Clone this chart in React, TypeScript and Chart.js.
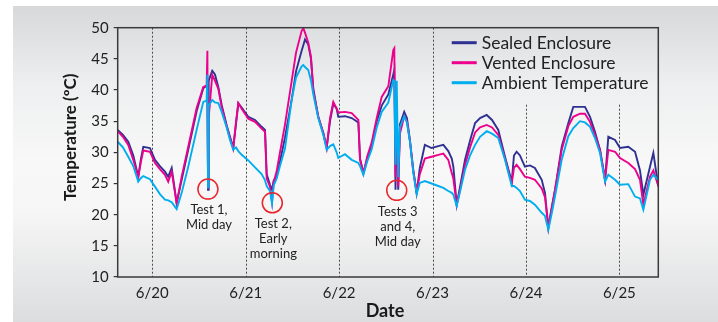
import React, { useEffect, useRef } from "react";
import { Chart, registerables } from "chart.js";

Chart.register(...registerables);

// x-axis ticks (day of June) and their labels
const dayTicks = [20, 21, 22, 23, 24, 25];
const tickLabels = ["6/20", "6/21", "6/22", "6/23", "6/24", "6/25"];
const yTicks = [10, 15, 20, 25, 30, 35, 40, 45, 50];

// sample times, decimal day of June
const times = [
  19.63, 19.686, 19.743, 19.797, 19.85, 19.879, 19.904, 19.975, 20.029, 20.082,
  20.136, 20.171, 20.208, 20.261, 20.315, 20.385, 20.475, 20.546, 20.582, 20.59,
  20.597, 20.604, 20.642, 20.671, 20.707, 20.743, 20.797, 20.832, 20.867, 20.896,
  20.921, 20.957, 21.028, 21.1, 21.171, 21.207, 21.225, 21.26, 21.282, 21.3,
  21.332, 21.367, 21.421, 21.493, 21.539, 21.599, 21.617, 21.635, 21.67, 21.699,
  21.724, 21.777, 21.831, 21.867, 21.903, 21.938, 21.974, 21.991, 22.063, 22.135,
  22.206, 22.224, 22.26, 22.3, 22.349, 22.403, 22.456, 22.527, 22.58, 22.591,
  22.604, 22.617, 22.633, 22.651, 22.697, 22.726, 22.758, 22.794, 22.83, 22.864,
  22.918, 22.99, 23.062, 23.116, 23.169, 23.206, 23.223, 23.259, 23.295, 23.348,
  23.402, 23.456, 23.509, 23.58, 23.637, 23.704, 23.776, 23.848, 23.872, 23.9,
  23.936, 23.989, 24.043, 24.096, 24.169, 24.204, 24.24, 24.274, 24.312, 24.383,
  24.454, 24.507, 24.579, 24.632, 24.686, 24.739, 24.793, 24.847, 24.882, 24.954,
  25.007, 25.096, 25.168, 25.221, 25.257, 25.328, 25.364, 25.417,
];

const sealed = [
  33.6, 32.8, 31.7, 29.5, 26.1, 29.0, 30.9, 30.7, 28.8, 27.8,
  26.9, 26.1, 27.5, 21.9, 25.6, 30.4, 36.6, 40.3, 40.7, 40.6,
  24.0, 41.5, 43.1, 42.5, 40.5, 37.6, 34.3, 32.5, 30.8, 34.5,
  37.9, 37.2, 35.7, 35.2, 34.1, 33.6, 26.5, 24.8, 24.0, 25.5,
  26.1, 28.5, 32.4, 38.5, 43.0, 46.3, 47.2, 48.1, 47.3, 45.0,
  40.2, 35.7, 33.1, 30.8, 35.0, 37.8, 37.0, 35.7, 35.8, 35.5,
  34.8, 29.0, 26.7, 28.8, 31.2, 35.0, 37.5, 39.3, 42.5, 43.2,
  24.0, 38.0, 24.0, 34.5, 36.5, 35.5, 32.0, 27.2, 23.5, 27.5,
  31.2, 30.7, 31.0, 31.2, 30.2, 29.0, 27.7, 21.6, 24.5, 28.8,
  31.9, 34.7, 35.5, 36.0, 35.2, 33.6, 29.3, 25.3, 29.5, 30.1,
  29.5, 27.7, 27.9, 27.5, 25.6, 23.5, 17.9, 21.0, 24.0, 30.9,
  34.7, 37.3, 37.3, 37.3, 35.7, 33.3, 30.4, 25.6, 32.5, 32.0,
  30.7, 30.9, 30.1, 27.1, 23.2, 27.7, 29.9, 24.5,
];

const vented = [
  33.4, 32.5, 31.2, 28.8, 26.0, 28.5, 30.3, 30.1, 28.3, 27.3,
  26.4, 25.3, 26.9, 21.8, 26.1, 30.9, 37.1, 40.5, 40.7, 46.3,
  24.3, 35.5, 42.4, 41.5, 40.2, 37.3, 34.1, 32.3, 30.6, 34.8,
  37.9, 37.0, 35.4, 34.9, 33.8, 33.3, 25.8, 24.5, 22.0, 25.2,
  27.0, 30.0, 34.5, 41.5, 46.0, 49.5, 49.9, 49.2, 47.6, 45.3,
  39.8, 35.7, 33.1, 30.7, 35.5, 38.1, 37.0, 36.4, 36.5, 36.3,
  35.2, 28.8, 26.6, 29.3, 31.6, 35.5, 38.9, 40.6, 46.4, 46.7,
  26.0, 36.0, 24.5, 33.0, 35.8, 35.0, 31.8, 27.0, 23.6, 26.5,
  29.0, 29.3, 29.6, 29.8, 28.8, 26.7, 25.8, 21.6, 24.0, 28.0,
  30.8, 33.2, 34.0, 34.4, 34.0, 32.8, 29.0, 25.0, 27.5, 28.0,
  27.3, 26.1, 25.9, 25.6, 24.2, 22.8, 17.9, 20.8, 24.0, 30.4,
  34.2, 35.7, 36.2, 36.2, 34.9, 32.8, 30.4, 25.6, 30.4, 30.1,
  29.1, 28.3, 27.3, 25.6, 21.6, 26.1, 27.1, 24.6,
];

const ambient = [
  31.7, 30.8, 29.3, 27.8, 25.3, 25.9, 26.2, 25.7, 24.5, 23.3,
  22.4, 22.3, 22.0, 20.9, 23.5, 27.7, 33.6, 38.1, 38.3, 42.5,
  24.4, 37.5, 38.4, 38.0, 37.9, 36.5, 34.0, 32.0, 30.4, 30.8,
  30.2, 29.6, 28.7, 27.6, 26.5, 25.5, 24.6, 23.8, 21.8, 24.7,
  25.8, 27.8, 30.6, 38.5, 42.0, 43.8, 44.0, 43.7, 43.2, 41.5,
  39.3, 35.5, 32.8, 30.4, 31.0, 31.3, 30.0, 29.1, 29.7, 28.8,
  28.3, 27.8, 26.4, 28.5, 30.5, 34.0, 36.5, 38.0, 41.6, 41.5,
  28.0, 41.5, 26.0, 34.0, 35.8, 34.8, 31.8, 26.8, 23.3, 25.1,
  25.4, 25.0, 24.6, 24.3, 23.8, 23.5, 23.2, 21.4, 23.7, 27.2,
  29.5, 31.2, 32.5, 33.4, 33.0, 32.3, 28.8, 24.6, 24.6, 24.3,
  23.8, 22.4, 22.2, 21.6, 20.3, 19.8, 17.6, 20.0, 23.0, 28.8,
  32.6, 33.9, 35.0, 34.8, 34.1, 32.3, 29.9, 25.3, 26.4, 25.6,
  24.8, 24.9, 22.9, 22.6, 20.8, 25.6, 26.4, 25.6,
];

// test annotations (day, temperature) and their captions
const testDays = [20.596, 21.285, 22.617];
const testTemps = [24.1, 21.9, 23.9];
const testLabels = [
  ["Test 1,", "Mid day"],
  ["Test 2,", "Early", "morning"],
  ["Tests 3", "and 4,", "Mid day"],
];

const seriesNames = ["Sealed Enclosure", "Vented Enclosure", "Ambient Temperature"];
const seriesColors = ["#2e3192", "#ec008c", "#00aeef"];
const FONT = "Lato, 'Open Sans', sans-serif";

const overlayPlugin = {
  id: "overlay",
  beforeDatasetsDraw(chart: any) {
    const { ctx, chartArea: a, scales } = chart;
    const x = scales.x;
    ctx.save();
    ctx.strokeStyle = "#4a4a4a";
    ctx.lineWidth = 1;
    ctx.setLineDash([2, 2]);
    const legendLeft = a.left + 322;
    const legendBottom = a.top + 77;
    dayTicks.forEach((v) => {
      const px = Math.round(x.getPixelForValue(v)) + 0.5;
      const y0 = px > legendLeft ? legendBottom : a.top;
      ctx.beginPath();
      ctx.moveTo(px, y0);
      ctx.lineTo(px, a.bottom);
      ctx.stroke();
    });
    ctx.restore();
  },
  afterDatasetsDraw(chart: any) {
    const { ctx, chartArea: a, scales } = chart;
    const x = scales.x;
    const y = scales.y;
    ctx.save();
    // frame
    ctx.strokeStyle = "#3a3a3a";
    ctx.lineWidth = 1.5;
    ctx.strokeRect(a.left, a.top, a.right - a.left, a.bottom - a.top);

    // legend
    ctx.font = `17.5px ${FONT}`;
    ctx.textBaseline = "middle";
    ctx.textAlign = "left";
    seriesNames.forEach((name, i) => {
      const ly = a.top + 15 + i * 20;
      ctx.strokeStyle = seriesColors[i];
      ctx.lineWidth = 3;
      ctx.beginPath();
      ctx.moveTo(a.left + 334, ly);
      ctx.lineTo(a.left + 359, ly);
      ctx.stroke();
      ctx.fillStyle = "#222";
      ctx.fillText(name, a.left + 364, ly + 1);
    });

    // test annotations
    testDays.forEach((d, i) => {
      const cx = x.getPixelForValue(d);
      const cy = y.getPixelForValue(testTemps[i]);
      ctx.strokeStyle = "#e8262b";
      ctx.lineWidth = 1.5;
      ctx.beginPath();
      ctx.arc(cx, cy, 10, 0, Math.PI * 2);
      ctx.stroke();
      ctx.fillStyle = "#222";
      ctx.font = `13px ${FONT}`;
      ctx.textAlign = "center";
      ctx.textBaseline = "middle";
      testLabels[i].forEach((line, j) => {
        ctx.fillText(line, cx + 1, cy + 21 + j * 15);
      });
    });

    // axis titles
    ctx.fillStyle = "#1a1a1a";
    ctx.font = `bold 17px ${FONT}`;
    ctx.textAlign = "center";
    ctx.textBaseline = "middle";
    ctx.save();
    ctx.translate(a.left - 47, (a.top + a.bottom) / 2 - 15);
    ctx.rotate(-Math.PI / 2);
    ctx.fillText("Temperature (ºC)", 0, 0);
    ctx.restore();
    ctx.font = `bold 18px ${FONT}`;
    ctx.fillText("Date", (a.left + a.right) / 2 - 3, a.bottom + 34);
    ctx.restore();
  },
};

export default function App() {
  const ref = useRef<HTMLCanvasElement | null>(null);

  useEffect(() => {
    let chart: Chart | null = null;
    let cancelled = false;
    const make = () => {
      if (cancelled || !ref.current) return;
      chart = new Chart(ref.current, {
        type: "line",
        data: {
          datasets: [sealed, vented, ambient].map((vals, i) => ({
            label: seriesNames[i],
            data: times.map((t, k) => ({ x: t, y: vals[k] })),
            borderColor: seriesColors[i],
            backgroundColor: seriesColors[i],
            borderWidth: 1.9,
            pointRadius: 0,
            tension: 0,
            fill: false,
            order: 3 - i,
          })),
        },
        options: {
          responsive: false,
          animation: false,
          devicePixelRatio: 1,
          layout: { padding: { left: 0, top: 27.7, right: 59.7, bottom: 0 } },
          plugins: { legend: { display: false }, tooltip: { enabled: false } },
          scales: {
            x: {
              type: "linear",
              min: 19.63,
              max: 25.417,
              afterFit: (s: any) => {
                s.height = 45;
              },
              afterBuildTicks: (s: any) => {
                s.ticks = dayTicks.map((v) => ({ value: v }));
              },
              grid: { display: false, drawTicks: false },
              border: { display: false },
              ticks: {
                autoSkip: false,
                maxRotation: 0,
                padding: 7,
                color: "#222",
                font: { family: FONT, size: 15 },
                callback: (v: any) => {
                  const i = dayTicks.indexOf(Number(v));
                  return i >= 0 ? tickLabels[i] : "";
                },
              },
            },
            y: {
              type: "linear",
              min: 10,
              max: 50,
              afterFit: (s: any) => {
                s.width = 117.7;
              },
              afterBuildTicks: (s: any) => {
                s.ticks = yTicks.map((v) => ({ value: v }));
              },
              grid: {
                drawOnChartArea: false,
                drawTicks: true,
                tickLength: 4,
                color: "#333",
                lineWidth: 1.2,
              },
              border: { display: false },
              ticks: {
                padding: 5,
                color: "#222",
                font: { family: FONT, size: 15 },
              },
            },
          },
        },
        plugins: [overlayPlugin],
      });
    };
    const fonts: any = (document as any).fonts;
    if (fonts && fonts.load) {
      Promise.all([
        fonts.load(`15px Lato`),
        fonts.load(`bold 17px Lato`),
      ]).then(make, make);
    } else {
      make();
    }
    return () => {
      cancelled = true;
      if (chart) chart.destroy();
    };
  }, []);

  return (
    <div
      style={{
        position: "fixed",
        left: 0,
        top: 0,
        width: 718,
        height: 322,
        background: "#ffffff",
        overflow: "hidden",
      }}
    >
      <div
        style={{
          position: "absolute",
          left: 13,
          top: 6,
          right: 0,
          bottom: 0,
          background:
            "linear-gradient(to bottom, #d7d8da 0%, #eeeff0 25%, #f8f8f8 50%, #f6f6f6 65%, #dcdddf 100%)",
        }}
      />
      <canvas
        ref={ref}
        width={718}
        height={322}
        style={{ position: "absolute", left: 0, top: 0, width: 718, height: 322 }}
      />
    </div>
  );
}
